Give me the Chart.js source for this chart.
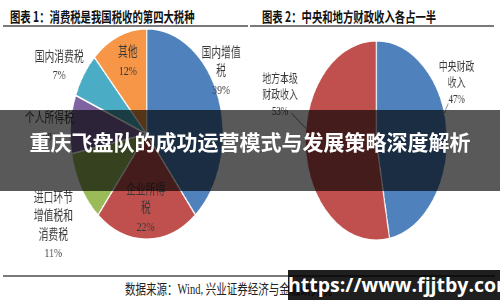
<!DOCTYPE html>
<html>
<head>
<meta charset="utf-8">
<script src="https://cdn.jsdelivr.net/npm/chart.js@4"></script>
<style>
  html, body { margin: 0; padding: 0; background: #fff; }
  #page { position: relative; width: 500px; height: 300px; overflow: hidden; background: #fff; }
  .title { position: absolute; top: 6px; font: bold 14px "Noto Sans CJK SC", sans-serif; color: #111;
           transform: scaleX(0.74); transform-origin: 0 0; white-space: nowrap; }
  .rule { position: absolute; height: 2px; background: #7a7a7a; }
  .wrap { position: absolute; top: 28px; transform-origin: 0 0; }
  .source { position: absolute; left: 125px; top: 278px; font: 14px "Liberation Serif", "Noto Sans CJK SC", serif;
            color: #222; transform: scaleX(0.75); transform-origin: 0 0; white-space: nowrap; }
  #banner { position: absolute; left: 0; top: 110px; width: 500px; height: 81px; background: rgba(0,0,0,0.65);
            color: #fff; font: bold 21px "Noto Sans CJK SC", sans-serif; text-align: center; line-height: 63px; }
  #mark { position: absolute; left: 288px; top: 270px; width: 212px; height: 30px; background: rgba(0,0,0,0.88);
          color: #fff; font: bold 19.5px "Open Sans", sans-serif; line-height: 30px; text-align: center; }
</style>
</head>
<body>
<div id="page">
  <div class="title" style="left:10px">图表 1：消费税是我国税收的第四大税种</div>
  <div class="title" style="left:262px">图表 2：中央和地方财政收入各占一半</div>
  <div class="rule" style="left:3px; top:25px; width:245px"></div>
  <div class="rule" style="left:250px; top:25px; width:244px"></div>

  <div class="wrap" style="left:0; transform: scale(0.726, 1)"><canvas id="taxChart" width="344" height="242"></canvas></div>
  <div class="wrap" style="left:250px; transform: scale(0.711, 1)"><canvas id="revChart" width="352" height="242"></canvas></div>

  <div class="rule" style="left:3px; top:275px; width:492px"></div>
  <div class="source">数据来源：Wind, 兴业证券经济与金融研究院</div>

  <div id="banner">重庆飞盘队的成功运营模式与发展策略深度解析</div>
  <div id="mark">https://www.fjjtby.com</div>
</div>

<script>
// chart 1 - tax shares
var taxNames = ["国内增值税", "企业所得税", "进口环节增值税和消费税", "个人所得税", "国内消费税", "其他"];
var taxShares = [39, 22, 11, 9, 7, 12];
var taxLabelLines = [["国内增值", "税"], ["企业所得", "税"], ["进口环节", "增值税和", "消费税"], ["个人所得税"], ["国内消费税"], ["其他"]];

// chart 2 - central vs local revenue
var revNames = ["中央财政收入", "地方本级财政收入"];
var revShares = [47, 53];
var revLabelLines = [["中央财政", "收入"], ["地方本级", "财政收入"]];

// label placement, in units of the pie radius from its centre
var taxLabelPos = [[0.975, -0.594], [-0.013, 0.708], [-1.222, 0.873], [-1.273, -0.057], [-1.144, -0.64], [-0.247, -0.684]];
var revLabelPos = [[1.134, -0.572], [-1.357, -0.453]];
// leader lines: start point (radius units) and the angle on the rim where they end
var revLeaders = [[1.015, -0.373, 74], [-1.196, -0.274, 277]];

var excelColors = ['#4F81BD', '#C0504D', '#9BBB59', '#8064A2', '#4BACC6', '#F79646'];

var sliceLabels = {
    id: 'sliceLabels',
    afterDatasetsDraw: function(chart, args, opts) {
        var ctx = chart.ctx;
        var arcs = chart.getDatasetMeta(0).data;
        var values = chart.data.datasets[0].data;
        ctx.save();
        ctx.fillStyle = '#3a3a3a';
        ctx.font = opts.fontSize + 'px "Liberation Serif", "Noto Sans CJK SC", serif';
        ctx.textAlign = 'center';
        ctx.textBaseline = 'middle';
        arcs.forEach(function(arc, i) {
            var p = arc.getProps(['x', 'y', 'outerRadius'], true);
            var lines = opts.lines[i].concat([values[i] + '%']);
            var cx = p.x + opts.pos[i][0] * p.outerRadius;
            var cy = p.y + opts.pos[i][1] * p.outerRadius;
            var top = cy - (lines.length - 1) * opts.lineHeight / 2;
            lines.forEach(function(t, k) {
                ctx.fillText(t, cx, top + k * opts.lineHeight);
            });
            if (opts.leaders) {
                var l = opts.leaders[i];
                var a = l[2] * Math.PI / 180;
                ctx.strokeStyle = '#6a6a6a';
                ctx.lineWidth = 1;
                ctx.beginPath();
                ctx.moveTo(p.x + l[0] * p.outerRadius, p.y + l[1] * p.outerRadius);
                ctx.lineTo(p.x + Math.sin(a) * p.outerRadius, p.y - Math.cos(a) * p.outerRadius);
                ctx.stroke();
            }
        });
        ctx.restore();
    }
};

function makePie(id, names, values, colors, padding, labelOpts) {
    return new Chart(document.getElementById(id), {
        type: 'pie',
        data: {
            labels: names,
            datasets: [{
                data: values,
                backgroundColor: colors,
                borderColor: '#ffffff',
                borderWidth: 1.5
            }]
        },
        options: {
            responsive: false,
            animation: false,
            devicePixelRatio: 1,
            layout: { padding: padding },
            plugins: {
                legend: { display: false },
                tooltip: { enabled: false },
                sliceLabels: labelOpts
            }
        },
        plugins: [sliceLabels]
    });
}

makePie('taxChart', taxNames, taxShares, excelColors,
    { left: 96, right: 36, top: 0, bottom: 30 },
    { lines: taxLabelLines, pos: taxLabelPos, fontSize: 13.5, lineHeight: 18.5 });

makePie('revChart', revNames, revShares, ['#4F81BD', '#C0504D'],
    { left: 77, right: 74, top: 12, bottom: 29 },
    { lines: revLabelLines, pos: revLabelPos, fontSize: 12.5, lineHeight: 16, leaders: revLeaders });
</script>
</body>
</html>
